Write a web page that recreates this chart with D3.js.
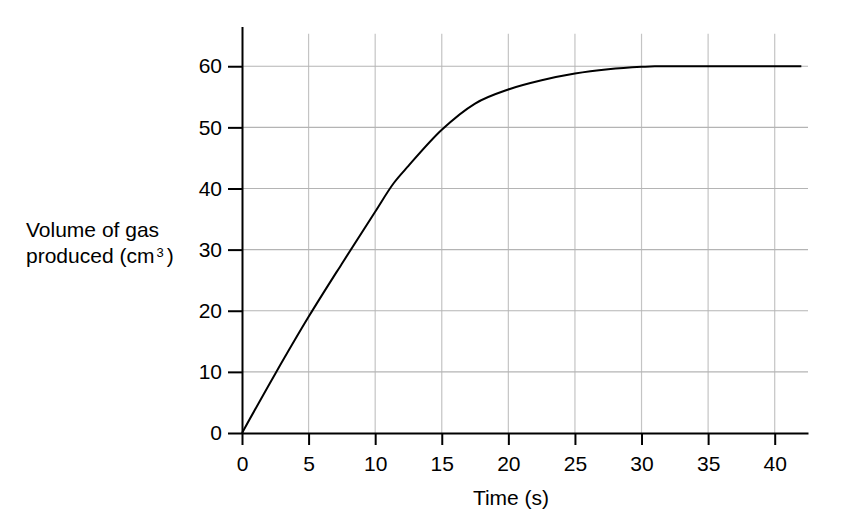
<!DOCTYPE html>
<html>
    <head>
        <title>Volume of gas produced</title>
        <meta charset="UTF-8">
        <script type="text/javascript" src="https://cdn.jsdelivr.net/npm/d3@7"></script>
        <style type="text/css">
            body { margin: 0; background: #fff; }
            text { font-family: "Liberation Sans", Arial, sans-serif; fill: #000; }
        </style>
    </head>
    <body>
        <div id="chart"></div>

        <script type="text/javascript">

            var svgW = 854; //svg width
            var svgH = 530; //svg height

            //time (s) and volume of gas (cm3)
            var timeData = [0, 2.5, 5, 7.5, 10, 11.4, 12.5, 15, 17.5, 20, 22.5, 25, 27.5, 30, 31, 42];
            var volumeData = [0, 9.7, 19, 27.7, 36.2, 40.9, 43.7, 49.6, 53.9, 56.2, 57.7, 58.8, 59.5, 59.9, 60, 60];

            var xTicks = [0, 5, 10, 15, 20, 25, 30, 35, 40];
            var yTicks = [0, 10, 20, 30, 40, 50, 60];

            var xLabel = "Time (s)";
            var yLabelLines = ["Volume of gas", "produced (cm"];

            var fontSize = "21px";

            var points = timeData.map(function (t, i) {
                return {t: t, v: volumeData[i]};
            });

            var x = d3.scaleLinear().domain([0, 42.5]).range([242, 808]);
            var y = d3.scaleLinear().domain([0, 66.5]).range([433, 26.5]);

            var svg = d3.select("#chart").append("svg")
                    .attr("width", svgW)
                    .attr("height", svgH);

            ///////////////////////////////////////////////////////////////
            // grid
            ///////////////////////////////////////////////////////////////
            svg.append("g").selectAll("line")
                    .data(xTicks.filter(function (d) { return d > 0; }))
                    .enter()
                    .append("line")
                    .attr("x1", function (d) { return x(d); })
                    .attr("x2", function (d) { return x(d); })
                    .attr("y1", y(65.3))
                    .attr("y2", y(0))
                    .attr("stroke", "#c4c4c4")
                    .attr("stroke-width", 1.2);

            svg.append("g").selectAll("line")
                    .data(yTicks.filter(function (d) { return d > 0; }))
                    .enter()
                    .append("line")
                    .attr("x1", x(0))
                    .attr("x2", x(42.5))
                    .attr("y1", function (d) { return y(d); })
                    .attr("y2", function (d) { return y(d); })
                    .attr("stroke", "#b4b4b4")
                    .attr("stroke-width", 1.2);

            ///////////////////////////////////////////////////////////////
            // axes
            ///////////////////////////////////////////////////////////////
            var xAxis = svg.append("g")
                    .attr("transform", "translate(0," + y(0) + ")")
                    .call(d3.axisBottom(x).tickValues(xTicks).tickSize(12).tickSizeOuter(0).tickPadding(11));
            var yAxis = svg.append("g")
                    .attr("transform", "translate(" + x(0) + ",0)")
                    .call(d3.axisLeft(y).tickValues(yTicks).tickSize(14).tickSizeOuter(0).tickPadding(6));

            [xAxis, yAxis].forEach(function (a) {
                a.select(".domain").attr("stroke", "#000").attr("stroke-width", 2);
                a.selectAll(".tick line").attr("stroke", "#000").attr("stroke-width", 2);
                a.selectAll(".tick text")
                        .attr("fill", "#000")
                        .style("font-size", fontSize)
                        .style("font-family", "'Liberation Sans', Arial, sans-serif");
            });

            ///////////////////////////////////////////////////////////////
            // curve
            ///////////////////////////////////////////////////////////////
            var line = d3.line()
                    .x(function (d) { return x(d.t); })
                    .y(function (d) { return y(d.v); })
                    .curve(d3.curveMonotoneX);

            svg.append("path")
                    .datum(points)
                    .attr("d", line)
                    .attr("fill", "none")
                    .attr("stroke", "#000")
                    .attr("stroke-width", 2);

            ///////////////////////////////////////////////////////////////
            // labels
            ///////////////////////////////////////////////////////////////
            svg.append("text")
                    .attr("x", 511)
                    .attr("y", 505)
                    .attr("text-anchor", "middle")
                    .style("font-size", fontSize)
                    .text(xLabel);

            svg.append("text")
                    .attr("x", 26)
                    .attr("y", 237)
                    .style("font-size", fontSize)
                    .text(yLabelLines[0]);

            var yl2 = svg.append("text")
                    .attr("x", 26)
                    .attr("y", 263)
                    .style("font-size", fontSize)
                    .text(yLabelLines[1]);
            yl2.append("tspan")
                    .attr("dx", 2)
                    .attr("dy", -6)
                    .style("font-size", "13px")
                    .text("3");
            yl2.append("tspan")
                    .attr("dx", 3)
                    .attr("dy", 6)
                    .text(")");
        </script>

    </body>
</html>
